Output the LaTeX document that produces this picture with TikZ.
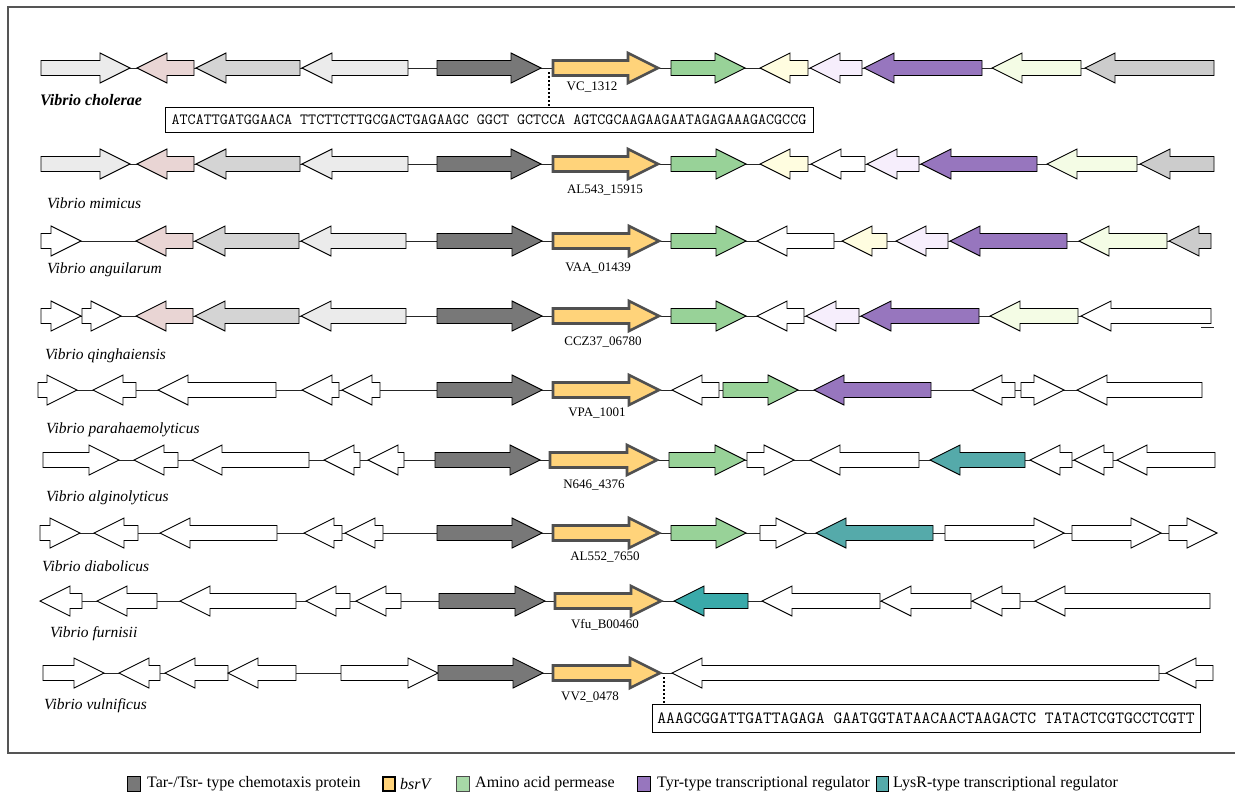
\documentclass[tikz,border=0pt]{standalone}
\usepackage{fontspec}
\setmainfont{Liberation Serif}
\definecolor{cLG}{HTML}{EBEBEB}
\definecolor{cPink}{HTML}{E9D5D4}
\definecolor{cMG}{HTML}{D4D4D4}
\definecolor{cDG}{HTML}{787878}
\definecolor{cYel}{HTML}{FFD37A}
\definecolor{cBsr}{HTML}{505050}
\definecolor{cGreen}{HTML}{98D298}
\definecolor{cLY}{HTML}{FFFDE0}
\definecolor{cLav}{HTML}{F6EEFC}
\definecolor{cPur}{HTML}{9776BE}
\definecolor{cLGr}{HTML}{F4FCE5}
\definecolor{cGray}{HTML}{CCCCCC}
\definecolor{cTeal}{HTML}{55AAAA}
\definecolor{cTealB}{HTML}{3AAAAA}
\definecolor{cFrame}{HTML}{555555}
\tikzset{
  gene/.style={draw=black, line width=0.9pt, fill=white},
  bsr/.style={draw=cBsr, line width=2.6pt, fill=cYel},
  baseln/.style={draw=black!85, line width=1pt},
  species/.style={anchor=west, font=\fontsize{15.5}{18}\selectfont\itshape, inner sep=0pt},
  locus/.style={font=\fontsize{13}{15}\selectfont, inner sep=0pt},
  seqbox/.style={draw=black, line width=0.9pt, fill=white},
  dotln/.style={line width=2pt, dash pattern=on 2pt off 2pt, draw=black},
  legtext/.style={anchor=west, font=\fontsize{16}{18}\selectfont, inner sep=0pt},
  legbox/.style={draw=black, line width=1pt},
}
% right-pointing gene: y, x1, x2 (tip), style
\newcommand\gr[4]{\draw[#4] (#2,{#1-7.5}) -- ({#3-30},{#1-7.5}) -- ({#3-30},{#1-15}) -- (#3,#1) -- ({#3-30},{#1+15}) -- ({#3-30},{#1+7.5}) -- (#2,{#1+7.5}) -- cycle;}
% left-pointing gene: y, x1 (tip), x2, style
\newcommand\gl[4]{\draw[#4] (#3,{#1-7.5}) -- ({#2+30},{#1-7.5}) -- ({#2+30},{#1-15}) -- (#2,#1) -- ({#2+30},{#1+15}) -- ({#2+30},{#1+7.5}) -- (#3,{#1+7.5}) -- cycle;}
\begin{document}
\begin{tikzpicture}[x=1pt,y=-1pt]
\useasboundingbox (0,0) rectangle (1235,795);
\fill[white] (0,0) rectangle (1235,795);
% frame
\draw[cFrame, line width=1.5pt] (1240,7) -- (8,7) -- (8,753) -- (1240,753);

% ---------- Row 1 : Vibrio cholerae ----------
\coordinate (r1s) at (41,68); \coordinate (r1e) at (1214,68);
\draw[baseln] (r1s) -- (r1e);
\gr{68}{41}{130}{gene,fill=cLG}
\gl{68}{137}{194}{gene,fill=cPink}
\gl{68}{196}{300}{gene,fill=cMG}
\gl{68}{302}{408}{gene,fill=cLG}
\gr{68}{437}{541}{gene,fill=cDG}
\gr{68}{553}{658}{bsr}
\gr{68}{671}{745}{gene,fill=cGreen}
\gl{68}{760}{808}{gene,fill=cLY}
\gl{68}{810}{862}{gene,fill=cLav}
\gl{68}{864}{982}{gene,fill=cPur}
\gl{68}{992}{1081}{gene,fill=cLGr}
\gl{68}{1085}{1214}{gene,fill=cGray}
\node[locus] (l1) at (592,87) {VC\_1312};
\node[anchor=west, font=\fontsize{16}{18}\selectfont\bfseries\itshape, inner sep=0pt] (s1) at (40,100) {Vibrio cholerae};
\node[seqbox, minimum width=648pt, minimum height=25pt, inner sep=0pt] (q1) at (489,120) {\fontsize{15.6}{17}\selectfont\ttfamily ATCATTGATGGAACA TTCTTCTTGCGACTGAGAAGC GGCT GCTCCA AGTCGCAAGAAGAATAGAGAAAGACGCCG};
\coordinate (d1) at (549,72);
\draw[dotln] (d1) -- (d1 |- q1.north);

% ---------- Row 2 : Vibrio mimicus ----------
\coordinate (r2s) at (41,164); \coordinate (r2e) at (1214,164);
\draw[baseln] (r2s) -- (r2e);
\gr{164}{41}{130}{gene,fill=cLG}
\gl{164}{137}{194}{gene,fill=cPink}
\gl{164}{196}{300}{gene,fill=cMG}
\gl{164}{302}{408}{gene,fill=cLG}
\gr{164}{437}{541}{gene,fill=cDG}
\gr{164}{553}{658}{bsr}
\gr{164}{671}{746}{gene,fill=cGreen}
\gl{164}{760}{808}{gene,fill=cLY}
\gl{164}{811}{865}{gene}
\gl{164}{867}{919}{gene,fill=cLav}
\gl{164}{921}{1037}{gene,fill=cPur}
\gl{164}{1047}{1137}{gene,fill=cLGr}
\gl{164}{1140}{1214}{gene,fill=cGray}
\node[locus] (l2) at (605,190) {AL543\_15915};
\node[species] (s2) at (47,203) {Vibrio mimicus};

% ---------- Row 3 : Vibrio anguilarum ----------
\coordinate (r3s) at (41,241); \coordinate (r3e) at (1211,241);
\draw[baseln] (r3s) -- (r3e);
\gr{241}{41}{81}{gene}
\gl{241}{136}{193}{gene,fill=cPink}
\gl{241}{195}{299}{gene,fill=cMG}
\gl{241}{301}{406}{gene,fill=cLG}
\gr{241}{437}{542}{gene,fill=cDG}
\gr{241}{553}{659}{bsr}
\gr{241}{671}{746}{gene,fill=cGreen}
\gl{241}{757}{834}{gene}
\gl{241}{842}{887}{gene,fill=cLY}
\gl{241}{896}{948}{gene,fill=cLav}
\gl{241}{950}{1067}{gene,fill=cPur}
\gl{241}{1079}{1167}{gene,fill=cLGr}
\gl{241}{1169}{1211}{gene,fill=cGray}
\node[locus] (l3) at (598,268) {VAA\_01439};
\node[species] (s3) at (47,270) {Vibrio anguilarum};

% ---------- Row 4 : Vibrio qinghaiensis ----------
\coordinate (r4s) at (41,316); \coordinate (r4e) at (1211,316);
\draw[baseln] (r4s) -- (r4e);
\gr{316}{41}{81}{gene}
\gr{316}{82}{121}{gene}
\gl{316}{136}{193}{gene,fill=cPink}
\gl{316}{195}{299}{gene,fill=cMG}
\gl{316}{301}{406}{gene,fill=cLG}
\gr{316}{437}{542}{gene,fill=cDG}
\gr{316}{553}{659}{bsr}
\gr{316}{671}{746}{gene,fill=cGreen}
\gl{316}{757}{804}{gene}
\gl{316}{806}{859}{gene,fill=cLav}
\gl{316}{861}{979}{gene,fill=cPur}
\gl{316}{990}{1078}{gene,fill=cLGr}
\gl{316}{1081}{1211}{gene}
\coordinate (t4a) at (1201,327); \coordinate (t4b) at (1214,327);
\draw[baseln] (t4a) -- (t4b);
\node[locus] (l4) at (603,342) {CCZ37\_06780};
\node[species] (s4) at (45,356) {Vibrio qinghaiensis};

% ---------- Row 5 : Vibrio parahaemolyticus ----------
\coordinate (r5s) at (38,390); \coordinate (r5e) at (1202,390);
\draw[baseln] (r5s) -- (r5e);
\gr{390}{38}{77}{gene}
\gl{390}{93}{136}{gene}
\gl{390}{158}{276}{gene}
\gl{390}{302}{339}{gene}
\gl{390}{342}{380}{gene}
\gr{390}{437}{542}{gene,fill=cDG}
\gr{390}{553}{659}{bsr}
\gl{390}{672}{719}{gene}
\gr{390}{723}{798}{gene,fill=cGreen}
\gl{390}{814}{931}{gene,fill=cPur}
\gl{390}{972}{1015}{gene}
\gr{390}{1021}{1064}{gene}
\gl{390}{1077}{1202}{gene}
\node[locus] (l5) at (597,413) {VPA\_1001};
\node[species] (s5) at (46,430) {Vibrio parahaemolyticus};

% ---------- Row 6 : Vibrio alginolyticus ----------
\coordinate (r6s) at (43,460); \coordinate (r6e) at (1215,460);
\draw[baseln] (r6s) -- (r6e);
\gr{460}{43}{119}{gene}
\gl{460}{134}{178}{gene}
\gl{460}{192}{309}{gene}
\gl{460}{324}{360}{gene}
\gl{460}{368}{404}{gene}
\gr{460}{435}{540}{gene,fill=cDG}
\gr{460}{550}{657}{bsr}
\gr{460}{669}{745}{gene,fill=cGreen}
\gr{460}{747}{794}{gene}
\gl{460}{810}{919}{gene}
\gl{460}{930}{1025}{gene,fill=cTeal}
\gl{460}{1030}{1072}{gene}
\gl{460}{1074}{1113}{gene}
\gl{460}{1117}{1215}{gene}
\node[locus] (l6) at (594,485) {N646\_4376};
\node[species] (s6) at (46,498) {Vibrio alginolyticus};

% ---------- Row 7 : Vibrio diabolicus ----------
\coordinate (r7s) at (40,533); \coordinate (r7e) at (1217,533);
\draw[baseln] (r7s) -- (r7e);
\gr{533}{40}{80}{gene}
\gl{533}{94}{138}{gene}
\gl{533}{160}{277}{gene}
\gl{533}{304}{342}{gene}
\gl{533}{345}{383}{gene}
\gr{533}{437}{542}{gene,fill=cDG}
\gr{533}{553}{659}{bsr}
\gr{533}{671}{746}{gene,fill=cGreen}
\gr{533}{760}{806}{gene}
\gl{533}{816}{933}{gene,fill=cTeal}
\gr{533}{945}{1064}{gene}
\gr{533}{1072}{1161}{gene}
\gr{533}{1169}{1217}{gene}
\node[locus] (l7) at (605,557) {AL552\_7650};
\node[species] (s7) at (42,566) {Vibrio diabolicus};

% ---------- Row 8 : Vibrio furnisii ----------
\coordinate (r8s) at (40,601); \coordinate (r8e) at (1210,601);
\draw[baseln] (r8s) -- (r8e);
\gl{601}{40}{82}{gene}
\gl{601}{97}{157}{gene}
\gl{601}{180}{296}{gene}
\gl{601}{306}{350}{gene}
\gl{601}{356}{401}{gene}
\gr{601}{439}{545}{gene,fill=cDG}
\gr{601}{555}{661}{bsr}
\gl{601}{674}{748}{gene,fill=cTealB}
\gl{601}{762}{880}{gene}
\gl{601}{881}{971}{gene}
\gl{601}{972}{1020}{gene}
\gl{601}{1035}{1210}{gene}
\node[locus] (l8) at (605,625) {Vfu\_B00460};
\node[species] (s8) at (50,634) {Vibrio furnisii};

% ---------- Row 9 : Vibrio vulnificus ----------
\coordinate (r9s) at (43,673); \coordinate (r9e) at (1213,673);
\draw[baseln] (r9s) -- (r9e);
\gr{673}{43}{104}{gene}
\gl{673}{119}{160}{gene}
\gl{673}{165}{228}{gene}
\gl{673}{228}{296}{gene}
\gr{673}{341}{438}{gene}
\gr{673}{438}{543}{gene,fill=cDG}
\gr{673}{553}{660}{bsr}
\gl{673}{672}{1159}{gene}
\gl{673}{1166}{1213}{gene}
\node[locus] (l9) at (590,697) {VV2\_0478};
\node[species] (s9) at (44,706) {Vibrio vulnificus};
\node[seqbox, minimum width=548pt, minimum height=28pt, inner sep=0pt] (q9) at (926,718) {\fontsize{17.1}{19}\selectfont\ttfamily AAAGCGGATTGATTAGAGA GAATGGTATAACAACTAAGACTC TATACTCGTGCCTCGTT};
\coordinate (d9) at (664,677);
\draw[dotln] (d9) -- (d9 |- q9.north);

% ---------- Legend ----------
\node[legbox, fill=cDG, minimum width=13pt, minimum height=15pt, inner sep=0pt] (k1) at (134,784) {};
\node[legtext] (t1) at (147,784) {Tar-/Tsr- type chemotaxis protein};
\node[draw=black, line width=2pt, fill=cYel, minimum width=12pt, minimum height=14pt, inner sep=0pt] (k2) at (389,784) {};
\node[legtext, font=\fontsize{16}{18}\selectfont\itshape] (t2) at (400,784) {bsrV};
\node[legbox, draw=black!70, fill=cGreen!85!white, minimum width=13pt, minimum height=15pt, inner sep=0pt] (k3) at (463,784) {};
\node[legtext] (t3) at (475,784) {Amino acid permease};
\node[legbox, fill=cPur, minimum width=13pt, minimum height=15pt, inner sep=0pt] (k4) at (644,784) {};
\node[legtext] (t4) at (657,784) {Tyr-type transcriptional regulator};
\node[legbox, fill=cTeal, minimum width=12pt, minimum height=15pt, inner sep=0pt] (k5) at (882,784) {};
\node[legtext] (t5) at (893,784) {LysR-type transcriptional regulator};
\end{tikzpicture}
\end{document}
